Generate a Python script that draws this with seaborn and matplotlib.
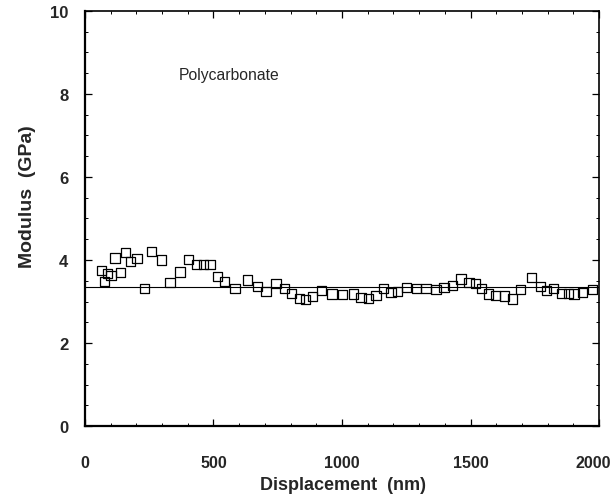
import matplotlib
matplotlib.use("Agg")
import matplotlib.pyplot as plt
import matplotlib.transforms as mtransforms
import seaborn as sns
import pandas as pd
from matplotlib.ticker import MultipleLocator

displacement_nm = [65, 75, 88, 101, 117, 137, 157, 176, 202, 231, 260, 298, 331, 370,
                   402, 433, 460, 486, 515, 544, 584, 632, 670, 704, 743, 776, 805, 834,
                   859, 884, 921, 961, 1003, 1044, 1074, 1102, 1132, 1161, 1191, 1217,
                   1252, 1291, 1327, 1366, 1397, 1429, 1463, 1494, 1520, 1544, 1569,
                   1598, 1632, 1663, 1696, 1738, 1773, 1796, 1822, 1855, 1881, 1903,
                   1937, 1974]
modulus_gpa = [3.74, 3.48, 3.68, 3.62, 4.05, 3.70, 4.19, 3.97, 4.04, 3.32, 4.20, 4.00,
               3.46, 3.71, 4.02, 3.89, 3.89, 3.89, 3.61, 3.48, 3.32, 3.52, 3.37, 3.25,
               3.43, 3.32, 3.20, 3.08, 3.04, 3.12, 3.26, 3.18, 3.16, 3.18, 3.10, 3.08,
               3.14, 3.31, 3.22, 3.24, 3.33, 3.31, 3.31, 3.28, 3.33, 3.39, 3.54, 3.46,
               3.44, 3.32, 3.18, 3.14, 3.13, 3.06, 3.28, 3.58, 3.37, 3.26, 3.32, 3.20,
               3.20, 3.18, 3.21, 3.29]
mean_modulus = 3.35
material_label = "Polycarbonate"
x_ticks = [0, 500, 1000, 1500, 2000]
y_ticks = [0, 2, 4, 6, 8, 10]

sns.set_style("ticks")
plt.rcParams["font.family"] = ["Liberation Sans", "DejaVu Sans"]

df = pd.DataFrame({"Displacement": displacement_nm, "Modulus": modulus_gpa})

fig = plt.figure(figsize=(6.15, 5.02), dpi=100)
ax = fig.add_axes([0.1382, 0.1494, 0.8358, 0.8267])

ax.axhline(mean_modulus, color="black", lw=0.8, zorder=1)
sns.scatterplot(data=df, x="Displacement", y="Modulus", ax=ax, marker="s",
                s=44, facecolor="none", edgecolor="black", linewidth=0.9, zorder=2)

ax.set_xlim(0, 2000)
ax.set_ylim(0, 10)
ax.set_xticks(x_ticks)
ax.set_yticks(y_ticks)
ax.xaxis.set_minor_locator(MultipleLocator(100))
ax.yaxis.set_minor_locator(MultipleLocator(0.5))
ax.tick_params(which="both", direction="in", top=True, right=True, color="black")
ax.tick_params(which="major", length=5, width=0.9)
ax.tick_params(axis="x", which="major", pad=21, labelsize=11.5)
ax.tick_params(axis="y", which="major", pad=12, labelsize=12)
ax.tick_params(which="minor", length=2.5, width=0.7)
xlabels = ax.get_xticklabels()
for lbl in xlabels + ax.get_yticklabels():
    lbl.set_fontweight("bold")
shift = mtransforms.ScaledTranslation(-4 / 72, 0, fig.dpi_scale_trans)
xlabels[-1].set_transform(xlabels[-1].get_transform() + shift)

for side in ["left", "bottom"]:
    ax.spines[side].set_linewidth(1.6)
for side in ["top", "right"]:
    ax.spines[side].set_linewidth(1.2)
for sp in ax.spines.values():
    sp.set_color("black")

ax.set_xlabel("Displacement  (nm)", fontsize=13, fontweight="bold")
ax.set_ylabel("Modulus  (GPa)", fontsize=14, fontweight="bold")
ax.xaxis.set_label_coords(0.502, -0.12)
ax.yaxis.set_label_coords(-0.095, 0.554)
ax.text(366, 8.48, material_label, fontsize=11.3, va="center", ha="left")

fig.savefig("out.png", dpi=100)
